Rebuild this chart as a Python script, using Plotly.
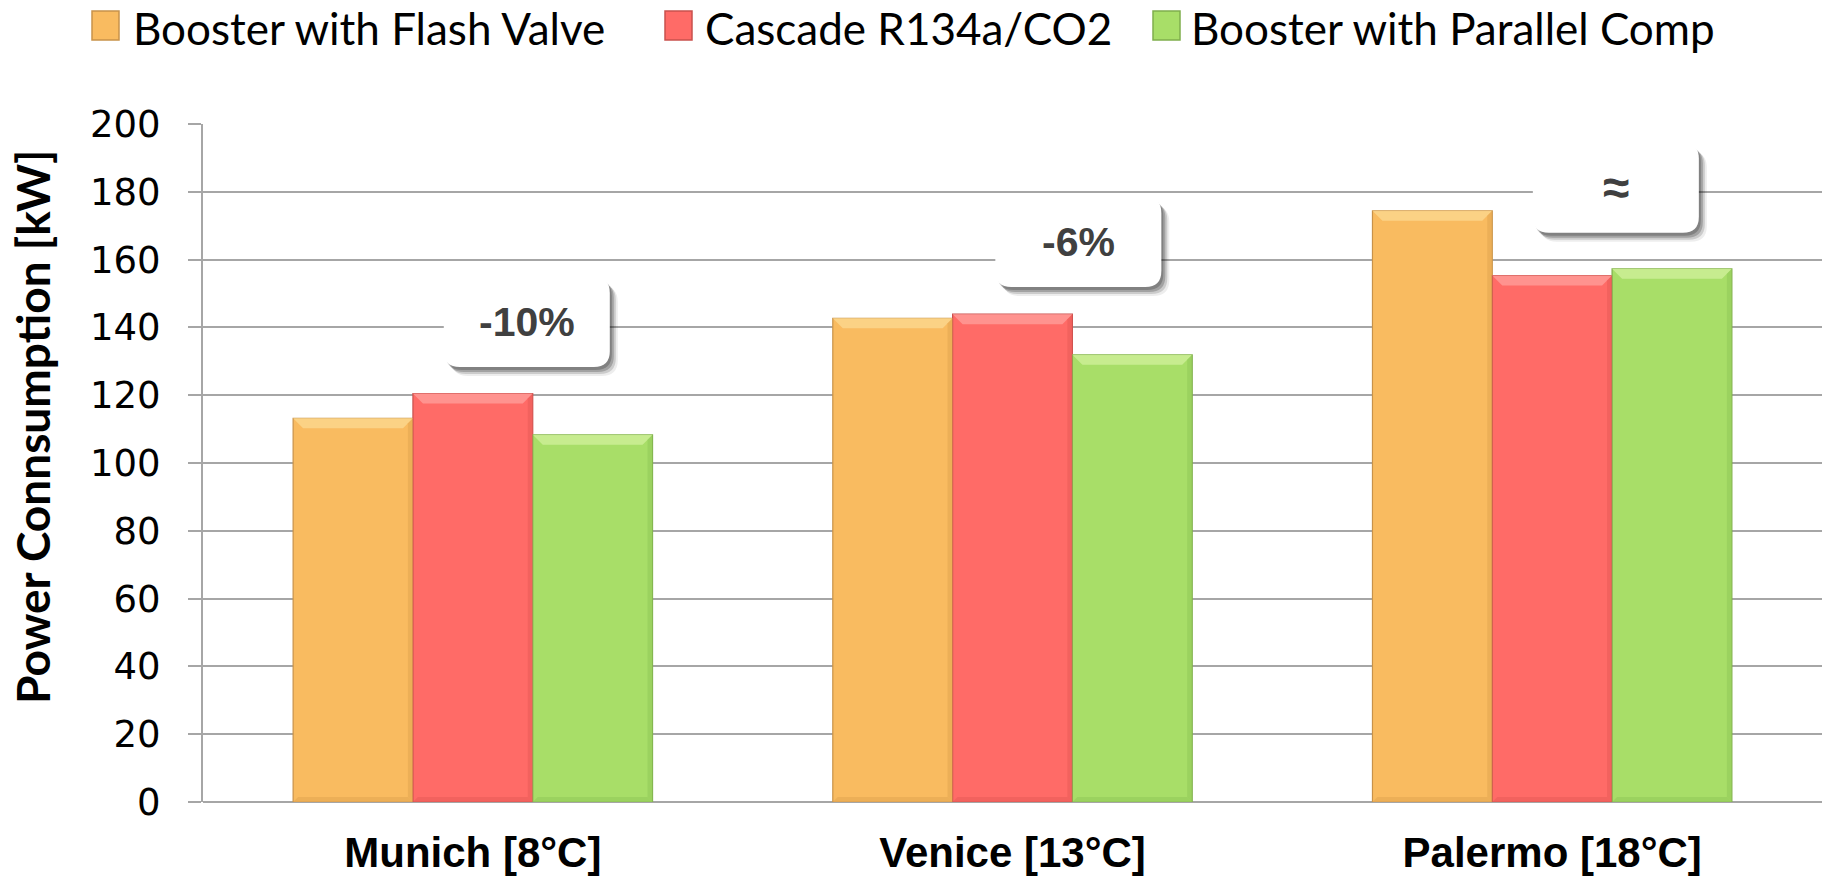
import plotly.graph_objects as go

# ---- data -------------------------------------------------------------
cities = ["Munich [8°C]", "Venice [13°C]", "Palermo [18°C]"]
series_names = ["Booster with Flash Valve", "Cascade R134a/CO2", "Booster with Parallel Comp"]
flash_valve = [113.2, 142.7, 174.4]
cascade = [120.5, 143.9, 155.3]
parallel_comp = [108.3, 131.9, 157.3]
diff_labels = ["-10%", "-6%", "≈"]
y_ticks = [0, 20, 40, 60, 80, 100, 120, 140, 160, 180, 200]

# ---- styling ----------------------------------------------------------
fills = ["#F9BB60", "#FF6B67", "#A8DE68"]
edges = ["#C8924A", "#C9514D", "#7FAE4C"]
tops = ["#FCD68C", "#FF9A96", "#CDEF97"]
sides = ["#E2A652", "#E95C58", "#93C95A"]

W, H = 1822, 878
ML, MR, MT, MB = 203, 0, 124, 76
PW, PH = W - ML - MR, H - MT - MB
X_RANGE = (-0.5, 2.5)
Y_RANGE = (0, 200)
PX_X = PW / (X_RANGE[1] - X_RANGE[0])   # px per category unit
PX_Y = PH / (Y_RANGE[1] - Y_RANGE[0])   # px per kW

BAR_W = 0.222
GRID = "#A6A6A6"

fig = go.Figure()
all_series = [flash_valve, cascade, parallel_comp]
shapes = []
for i, (name, vals) in enumerate(zip(series_names, all_series)):
    offset = -1.5 * BAR_W + i * BAR_W
    fig.add_bar(
        x=list(range(len(cities))), y=vals, name=name,
        width=BAR_W, offset=offset,
        marker=dict(color=fills[i], line=dict(color=edges[i], width=1.2)),
        showlegend=False,
    )
    # bevel facets on each bar
    bx, by = 10 / PX_X, 10 / PX_Y
    for c, v in enumerate(vals):
        x0 = c + offset
        x1 = x0 + BAR_W
        shapes.append(dict(
            type="path", xref="x", yref="y", layer="above",
            path=f"M{x0},{v} L{x1},{v} L{x1-bx},{v-by} L{x0+bx},{v-by} Z",
            fillcolor=tops[i], line=dict(width=0), opacity=0.85))
        shapes.append(dict(
            type="path", xref="x", yref="y", layer="above",
            path=f"M{x1},{v} L{x1},0 L{x1-bx*0.5},{by*0.5} L{x1-bx*0.5},{v-by*0.5} Z",
            fillcolor=sides[i], line=dict(width=0), opacity=0.6))
        shapes.append(dict(
            type="path", xref="x", yref="y", layer="above",
            path=f"M{x0},0 L{x1},0 L{x1-bx*0.5},{by*0.5} L{x0+bx*0.5},{by*0.5} Z",
            fillcolor=sides[i], line=dict(width=0), opacity=0.6))


def rounded_box(cx, cy, w_px, h_px, r_px):
    """Rounded rectangle path in data units, centred on (cx, cy)."""
    hw, hh = w_px / 2 / PX_X, h_px / 2 / PX_Y
    rx, ry = r_px / PX_X, r_px / PX_Y
    l, r, b, t = cx - hw, cx + hw, cy - hh, cy + hh
    return (f"M{l+rx},{t} L{r-rx},{t} Q{r},{t} {r},{t-ry} "
            f"L{r},{b+ry} Q{r},{b} {r-rx},{b} L{l+rx},{b} "
            f"Q{l},{b} {l},{b+ry} L{l},{t-ry} Q{l},{t} {l+rx},{t} Z")


# callout boxes (centre x as category offset, centre y in kW)
box_centers = [(0.10, 141.6), (1.122, 165.2), (2.118, 181.2)]
BOX_W, BOX_H, BOX_R = 166, 90, 16
annotations = []
for (cx, cy), lab in zip(box_centers, diff_labels):
    for dx, dy, a in [(8, 9, 0.07), (6, 7, 0.14), (4, 5, 0.20), (2, 3, 0.20)]:
        shapes.append(dict(
            type="path", xref="x", yref="y", layer="above",
            path=rounded_box(cx + dx / PX_X, cy - dy / PX_Y, BOX_W, BOX_H, BOX_R),
            fillcolor=f"rgba(0,0,0,{a})", line=dict(width=0)))
    shapes.append(dict(
        type="path", xref="x", yref="y", layer="above",
        path=rounded_box(cx, cy, BOX_W, BOX_H, BOX_R),
        fillcolor="white", line=dict(width=0)))
    annotations.append(dict(
        x=cx, y=cy, xref="x", yref="y", text=lab, showarrow=False,
        font=dict(family="Liberation Sans", size=41 if lab != "≈" else 48,
                  color="#404040", weight="bold")))


def paper_x(px):
    return (px - ML) / PW


def paper_y(py):
    return (H - MB - py) / PH


# legend drawn as swatches + labels across the top
legend_marker_x = [92, 665, 1153]
legend_text_x = [131, 703, 1189]
LEG_Y0, LEG_Y1 = 11, 40
for i, name in enumerate(series_names):
    mx0 = legend_marker_x[i]
    shapes.append(dict(
        type="rect", xref="paper", yref="paper",
        x0=paper_x(mx0), x1=paper_x(mx0 + 27),
        y0=paper_y(LEG_Y1), y1=paper_y(LEG_Y0),
        fillcolor=fills[i], line=dict(color=edges[i], width=1.5)))
    annotations.append(dict(
        x=paper_x(legend_text_x[i]), y=paper_y(28), xref="paper", yref="paper",
        xanchor="left", yanchor="middle", text=name, showarrow=False,
        font=dict(family="Lato", size=44, color="black")))

# y-axis title
annotations.append(dict(
    x=paper_x(32), y=paper_y(427), xref="paper", yref="paper",
    text="Power Connsumption [kW]", textangle=-90, showarrow=False,
    xanchor="center", yanchor="middle",
    font=dict(family="Lato", size=46, color="black", weight="bold")))

fig.update_layout(
    width=W, height=H,
    margin=dict(l=ML, r=MR, t=MT, b=MB, pad=0),
    paper_bgcolor="white", plot_bgcolor="white",
    barmode="overlay",
    showlegend=False,
    shapes=shapes,
    annotations=annotations,
    xaxis=dict(
        range=list(X_RANGE), tickmode="array",
        tickvals=list(range(len(cities))), ticktext=cities,
        showgrid=False, zeroline=False,
        showline=False, ticks="",
        ticklabelstandoff=22,
        tickfont=dict(family="Liberation Sans", size=42, color="black", weight="bold"),
    ),
    yaxis=dict(
        range=list(Y_RANGE), tickmode="array", tickvals=y_ticks,
        showgrid=True, gridcolor=GRID, gridwidth=2,
        zeroline=True, zerolinecolor=GRID, zerolinewidth=2,
        showline=True, linecolor=GRID, linewidth=2,
        ticks="outside", ticklen=13, tickwidth=2, tickcolor=GRID,
        ticklabelstandoff=20,
        tickfont=dict(family="DejaVu Sans", size=37, color="black"),
    ),
)

fig.write_html("out.html")
